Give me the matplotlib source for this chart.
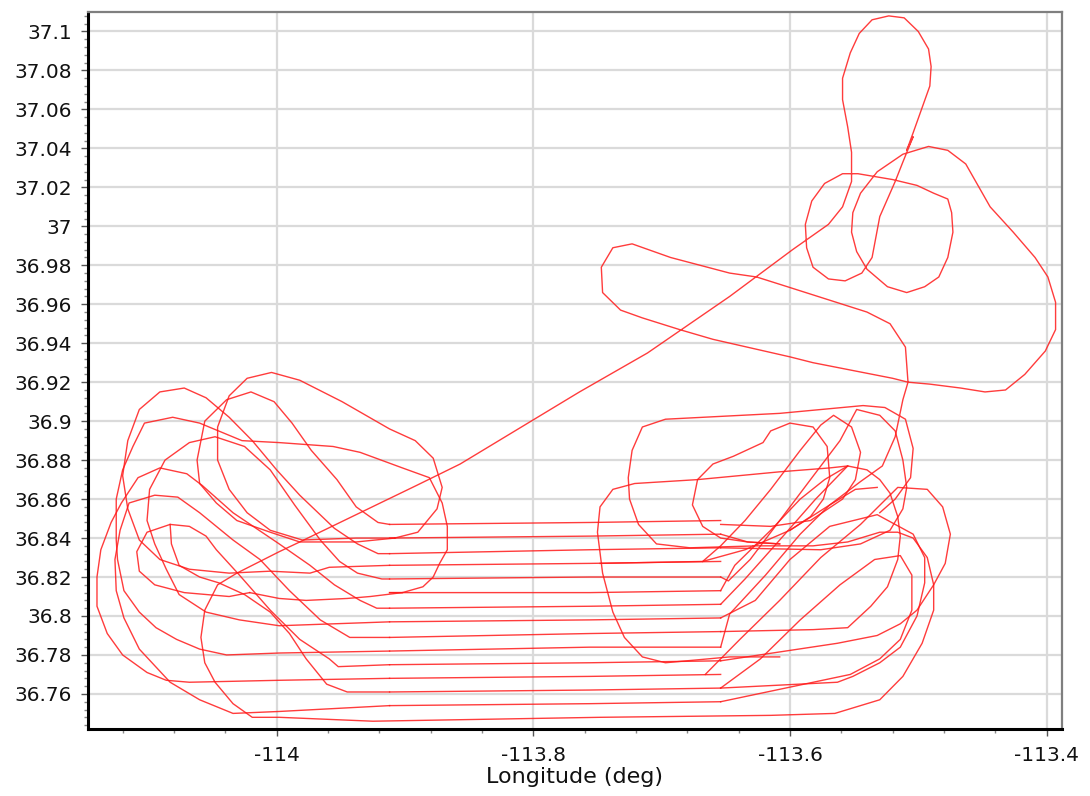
import matplotlib
matplotlib.use("Agg")
import matplotlib.pyplot as plt
from matplotlib.ticker import MultipleLocator, FuncFormatter

# ---------------- data (degrees) ----------------
# main track: bottom line, long diagonal, teardrop, circles, big loop, racetrack, descent
main_lon = [-113.530, -113.518,
            -113.506, -113.504, -113.510, -113.526, -113.543, -113.608, -113.697, -113.715, -113.723, -113.726,
            -113.725, -113.718, -113.704, -113.678, -113.626, -113.582, -113.555, -113.530, -113.516, -113.504,
            -113.493, -113.488, -113.488, -113.497, -113.512, -113.530, -113.565, -113.615, -113.748, -113.925,
            -113.998, -114.019, -114.034, -114.048, -114.056, -114.059, -114.056, -114.046, -114.031, -113.998,
            -113.982, -113.891, -113.857, -113.764, -113.711, -113.647, -113.598, -113.570, -113.559, -113.552,
            -113.552, -113.555, -113.559, -113.559, -113.553, -113.546, -113.536, -113.523, -113.511, -113.500,
            -113.492, -113.490, -113.491, -113.504, -113.509, -113.504, -113.512, -113.518, -113.530, -113.536,
            -113.544, -113.557, -113.570, -113.582, -113.587, -113.588, -113.583, -113.573, -113.559, -113.547,
            -113.520, -113.501, -113.488, -113.477, -113.474, -113.473, -113.477, -113.484, -113.495, -113.509,
            -113.524, -113.540, -113.548, -113.552, -113.551, -113.545, -113.532, -113.512, -113.492, -113.477,
            -113.463, -113.444, -113.426, -113.409, -113.399, -113.393, -113.393, -113.401, -113.417, -113.432,
            -113.448, -113.467, -113.491, -113.508, -113.520, -113.582, -113.600, -113.660, -113.686, -113.715,
            -113.732, -113.746, -113.747, -113.738, -113.723, -113.693, -113.647, -113.626, -113.602, -113.540,
            -113.522, -113.510, -113.508, -113.512, -113.518, -113.528, -113.545, -113.569, -113.600, -113.635,
            -113.668, -113.748]
main_lat = [36.853, 36.860,
            36.871, 36.886, 36.901, 36.907, 36.908, 36.904, 36.901, 36.897, 36.885, 36.871,
            36.860, 36.847, 36.837, 36.835, 36.836, 36.836, 36.838, 36.843, 36.843, 36.840,
            36.830, 36.816, 36.803, 36.786, 36.769, 36.757, 36.750, 36.749, 36.748, 36.746,
            36.748, 36.748, 36.755, 36.766, 36.776, 36.789, 36.803, 36.816, 36.822, 36.833,
            36.838, 36.867, 36.878, 36.915, 36.935, 36.964, 36.988, 37.001, 37.010, 37.023,
            37.038, 37.051, 37.065, 37.076, 37.089, 37.099, 37.106, 37.108, 37.107, 37.100,
            37.091, 37.082, 37.072, 37.048, 37.039, 37.046, 37.033, 37.023, 37.005, 36.984,
            36.976, 36.972, 36.973, 36.979, 36.989, 37.001, 37.013, 37.022, 37.027, 37.027,
            37.024, 37.021, 37.017, 37.014, 37.007, 36.997, 36.984, 36.974, 36.969, 36.966,
            36.969, 36.978, 36.987, 36.997, 37.007, 37.017, 37.028, 37.037, 37.041, 37.039,
            37.032, 37.010, 36.997, 36.984, 36.974, 36.961, 36.947, 36.936, 36.924, 36.916,
            36.915, 36.917, 36.919, 36.920, 36.922, 36.930, 36.933, 36.942, 36.947, 36.953,
            36.957, 36.966, 36.979, 36.989, 36.991, 36.984, 36.976, 36.974, 36.969, 36.956,
            36.950, 36.938, 36.920, 36.911, 36.892, 36.877, 36.869, 36.857, 36.844, 36.834,
            36.828, 36.827]

# parallel survey lines (west end, middle, east end)
line_lon = [-113.912, -113.756, -113.654]
line_lat_w = [36.847, 36.840, 36.832, 36.826, 36.819, 36.812, 36.804, 36.797, 36.789, 36.782, 36.775, 36.768, 36.761, 36.754]
line_lat_m = [36.848, 36.841, 36.834, 36.827, 36.820, 36.812, 36.805, 36.798, 36.791, 36.784, 36.776, 36.769, 36.762, 36.755]
line_lat_e = [36.849, 36.842, 36.835, 36.828, 36.820, 36.813, 36.806, 36.799, 36.792, 36.784, 36.777, 36.770, 36.763, 36.756]

# western turns
w1_lon = [-113.908, -113.938, -113.980, -114.005, -114.023, -114.037, -114.046, -114.046, -114.037, -114.023, -114.004, -113.982, -113.949, -113.912, -113.892, -113.878, -113.871, -113.875, -113.890, -113.908]
w1_lat = [36.840, 36.840, 36.839, 36.844, 36.853, 36.865, 36.880, 36.897, 36.913, 36.922, 36.925, 36.921, 36.910, 36.896, 36.890, 36.881, 36.866, 36.855, 36.843, 36.840]
w2_lon = [-113.912, -113.921, -113.938, -113.953, -113.973, -113.988, -114.002, -114.020, -114.039, -114.056, -114.062, -114.060, -114.047, -114.031, -114.005, -113.982, -113.938, -113.908]
w2_lat = [36.847, 36.848, 36.856, 36.870, 36.885, 36.899, 36.910, 36.915, 36.911, 36.900, 36.880, 36.868, 36.858, 36.849, 36.843, 36.838, 36.838, 36.840]
w3_lon = [-113.912, -113.921, -113.937, -113.955, -113.982, -114.000, -114.019, -114.037, -114.055, -114.072, -114.091, -114.107, -114.116, -114.120, -114.116, -114.107, -114.091, -114.068, -114.037, -114.005, -113.974, -113.959, -113.912]
w3_lat = [36.832, 36.832, 36.837, 36.845, 36.862, 36.875, 36.890, 36.902, 36.912, 36.917, 36.915, 36.906, 36.890, 36.872, 36.855, 36.839, 36.829, 36.824, 36.822, 36.823, 36.822, 36.825, 36.826]
w4_lon = [-113.912, -113.902, -113.886, -113.878, -113.873, -113.867, -113.867, -113.871, -113.881, -113.902, -113.935, -113.956, -113.998, -114.027, -114.060, -114.081, -114.103, -114.112, -114.120, -114.125, -114.125, -114.124, -114.119, -114.107, -114.094, -114.078, -114.060, -114.039, -113.998, -113.912]
w4_lat = [36.812, 36.812, 36.815, 36.820, 36.827, 36.834, 36.846, 36.858, 36.871, 36.876, 36.884, 36.887, 36.889, 36.890, 36.899, 36.902, 36.899, 36.887, 36.875, 36.860, 36.839, 36.829, 36.813, 36.802, 36.794, 36.788, 36.783, 36.780, 36.781, 36.782]
w4b_lon = [-113.902, -113.927, -113.945, -113.977, -113.998, -114.021]
w4b_lat = [36.812, 36.810, 36.809, 36.808, 36.809, 36.812]
w5_lon = [-113.912, -113.918, -113.937, -113.951, -113.966, -113.986, -114.005, -114.025, -114.048, -114.068, -114.087, -114.099, -114.101, -114.095, -114.086, -114.076, -114.055, -114.029, -113.998, -113.912]
w5_lat = [36.819, 36.819, 36.822, 36.828, 36.839, 36.857, 36.875, 36.887, 36.892, 36.889, 36.880, 36.865, 36.849, 36.837, 36.824, 36.811, 36.802, 36.798, 36.795, 36.797]
w6_lon = [-113.912, -113.922, -113.935, -113.955, -113.974, -113.998, -114.034, -114.058, -114.070, -114.091, -114.108, -114.121, -114.129, -114.137, -114.140, -114.140, -114.132, -114.120, -114.101, -114.086, -114.068, -113.998, -113.912]
w6_lat = [36.804, 36.804, 36.808, 36.816, 36.826, 36.837, 36.853, 36.867, 36.873, 36.876, 36.871, 36.858, 36.848, 36.834, 36.820, 36.805, 36.791, 36.780, 36.771, 36.767, 36.766, 36.767, 36.768]
w7_lon = [-113.912, -113.943, -113.966, -113.990, -114.013, -114.034, -114.047, -114.060, -114.077, -114.095, -114.115, -114.122, -114.126, -114.125, -114.119, -114.107, -114.083, -114.060, -114.034, -113.998, -113.912]
w7_lat = [36.789, 36.789, 36.798, 36.813, 36.829, 36.839, 36.846, 36.853, 36.861, 36.862, 36.858, 36.844, 36.829, 36.813, 36.799, 36.783, 36.766, 36.757, 36.750, 36.751, 36.754]
w8_lon = [-113.912, -113.952, -113.959, -113.982, -114.005, -114.029, -114.047, -114.055, -114.068, -114.083, -114.101, -114.109, -114.107, -114.095, -114.072, -114.037, -114.021]
w8_lat = [36.775, 36.774, 36.778, 36.788, 36.803, 36.821, 36.834, 36.841, 36.846, 36.847, 36.843, 36.833, 36.823, 36.816, 36.812, 36.810, 36.812]
w9_lon = [-113.912, -113.945, -113.961, -113.977, -113.990, -114.005, -114.025, -114.045, -114.060, -114.076, -114.082, -114.083]
w9_lat = [36.761, 36.761, 36.765, 36.778, 36.791, 36.802, 36.811, 36.817, 36.820, 36.826, 36.837, 36.847]

# eastern turns
e1_lon = [-113.600, -113.584, -113.574, -113.569, -113.571, -113.582, -113.600, -113.615, -113.621, -113.644, -113.660, -113.672, -113.676, -113.668, -113.654, -113.633, -113.608]
e1_lat = [36.844, 36.851, 36.860, 36.871, 36.887, 36.897, 36.899, 36.895, 36.889, 36.882, 36.878, 36.870, 36.857, 36.846, 36.840, 36.838, 36.837]
e2_lon = [-113.555, -113.569, -113.608, -113.672, -113.721, -113.738, -113.748, -113.750, -113.746, -113.738, -113.729, -113.715, -113.697, -113.647, -113.608]
e2_lat = [36.877, 36.876, 36.874, 36.870, 36.868, 36.865, 36.856, 36.843, 36.822, 36.802, 36.789, 36.779, 36.776, 36.779, 36.779]
e3_lon = [-113.668, -113.654, -113.635, -113.615, -113.592, -113.576, -113.566, -113.552, -113.545, -113.549, -113.559, -113.584, -113.615, -113.654]
e3_lat = [36.828, 36.836, 36.849, 36.865, 36.885, 36.898, 36.903, 36.897, 36.884, 36.870, 36.860, 36.849, 36.846, 36.847]
e4_lon = [-113.654, -113.648, -113.631, -113.608, -113.584, -113.561, -113.548, -113.530, -113.518, -113.512, -113.509, -113.512, -113.522, -113.545, -113.576, -113.654]
e4_lat = [36.820, 36.818, 36.829, 36.849, 36.870, 36.890, 36.906, 36.903, 36.895, 36.880, 36.866, 36.855, 36.844, 36.837, 36.834, 36.835]
e5_lon = [-113.654, -113.635, -113.608, -113.580, -113.555, -113.540, -113.530, -113.522, -113.516, -113.514, -113.516, -113.524, -113.537, -113.555, -113.582, -113.654]
e5_lat = [36.806, 36.819, 36.839, 36.860, 36.877, 36.875, 36.870, 36.863, 36.851, 36.841, 36.829, 36.815, 36.805, 36.794, 36.793, 36.792]
e6_lon = [-113.654, -113.627, -113.600, -113.569, -113.532, -113.504, -113.495, -113.495, -113.501, -113.514, -113.530, -113.551, -113.563, -113.654]
e6_lat = [36.799, 36.808, 36.829, 36.846, 36.852, 36.842, 36.830, 36.817, 36.800, 36.784, 36.776, 36.769, 36.766, 36.763]
e7_lon = [-113.666, -113.639, -113.608, -113.576, -113.545, -113.516, -113.493, -113.481, -113.475, -113.479, -113.488, -113.501, -113.514, -113.532, -113.563, -113.654]
e7_lat = [36.770, 36.788, 36.808, 36.830, 36.847, 36.866, 36.865, 36.856, 36.842, 36.827, 36.816, 36.803, 36.796, 36.790, 36.786, 36.777]
e8_lon = [-113.654, -113.623, -113.592, -113.561, -113.534, -113.514, -113.505, -113.505, -113.514, -113.530, -113.553, -113.654]
e8_lat = [36.763, 36.778, 36.798, 36.816, 36.829, 36.831, 36.821, 36.803, 36.788, 36.778, 36.770, 36.756]
e9_lon = [-113.654, -113.643, -113.615, -113.592, -113.573, -113.555]
e9_lat = [36.813, 36.826, 36.844, 36.860, 36.870, 36.877]
e10_lon = [-113.654, -113.647, -113.619, -113.592, -113.569, -113.549, -113.532]
e10_lat = [36.784, 36.801, 36.821, 36.842, 36.857, 36.865, 36.866]
e11_lon = [-113.654, -113.633, -113.608]
e11_lat = [36.842, 36.838, 36.837]

# ---------------- figure ----------------
W, H = 1090, 796
fig = plt.figure(figsize=(W / 100, H / 100), dpi=100)
ax = fig.add_axes([88 / W, 1 - 729 / H, (1062 - 88) / W, (729 - 12) / H])
ax.set_xlim(-114.147, -113.388)
ax.set_ylim(36.742, 37.110)

track_kw = dict(color="#ff1a1a", lw=1.0, alpha=0.85, solid_joinstyle="round")
ax.plot(main_lon, main_lat, **track_kw)
for lw_, lm_, le_ in zip(line_lat_w, line_lat_m, line_lat_e):
    ax.plot(line_lon, [lw_, lm_, le_], **track_kw)
for xs, ys in [(w1_lon, w1_lat), (w2_lon, w2_lat), (w3_lon, w3_lat), (w4_lon, w4_lat),
               (w4b_lon, w4b_lat), (w5_lon, w5_lat), (w6_lon, w6_lat), (w7_lon, w7_lat),
               (w8_lon, w8_lat), (w9_lon, w9_lat),
               (e1_lon, e1_lat), (e2_lon, e2_lat), (e3_lon, e3_lat), (e4_lon, e4_lat),
               (e5_lon, e5_lat), (e6_lon, e6_lat), (e7_lon, e7_lat), (e8_lon, e8_lat),
               (e9_lon, e9_lat), (e10_lon, e10_lat), (e11_lon, e11_lat)]:
    ax.plot(xs, ys, **track_kw)

# axes styling
ax.xaxis.set_major_locator(MultipleLocator(0.2))
ax.xaxis.set_minor_locator(MultipleLocator(0.04))
ax.yaxis.set_major_locator(MultipleLocator(0.02))
ax.yaxis.set_minor_locator(MultipleLocator(0.004))
fmt = FuncFormatter(lambda v, p: "%g" % round(v, 4))
ax.xaxis.set_major_formatter(fmt)
ax.yaxis.set_major_formatter(fmt)
ax.grid(True, which="major", color="#dadada", lw=1.6)
ax.set_axisbelow(True)
for s in ("top", "right"):
    ax.spines[s].set_color("#7f7f7f")
    ax.spines[s].set_linewidth(1.6)
for s in ("left", "bottom"):
    ax.spines[s].set_color("black")
    ax.spines[s].set_linewidth(2.2)
ax.tick_params(which="major", direction="out", length=5, width=1, color="#555555",
               labelsize=14.5, labelcolor="#111111")
ax.tick_params(which="minor", direction="out", length=3, width=1, color="#888888")
ax.tick_params(axis="x", which="major", pad=7)
ax.tick_params(axis="y", which="major", pad=6.5)
ax.set_xlabel("Longitude (deg)", fontsize=16, color="#111111", labelpad=2)

fig.savefig("out.png", dpi=100)
